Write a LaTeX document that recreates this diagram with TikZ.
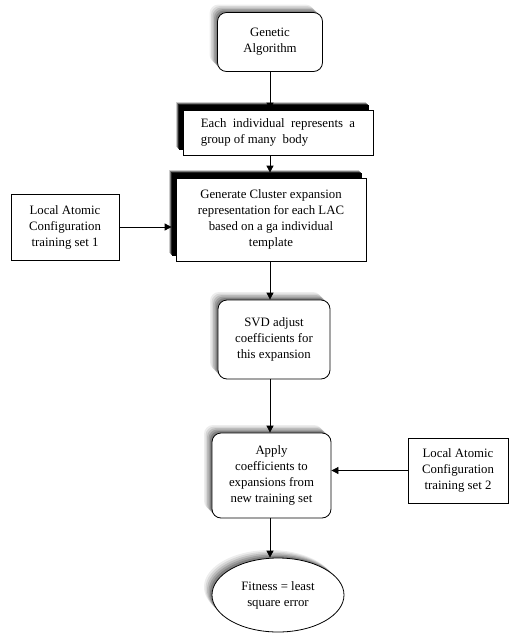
\documentclass[tikz,border=0pt]{standalone}
\usepackage{fontspec}
\setmainfont{Liberation Serif}
\usetikzlibrary{positioning, calc, shapes.geometric, arrows.meta}

\tikzset{
softshadow/.style={
  preaction={fill=black, opacity=.07, transform canvas={xshift=-8pt, yshift=8pt}},
  preaction={fill=black, opacity=.09, transform canvas={xshift=-6.5pt, yshift=6.5pt}},
  preaction={fill=black, opacity=.12, transform canvas={xshift=-5pt, yshift=5pt}},
  preaction={fill=black, opacity=.15, transform canvas={xshift=-3.5pt, yshift=3.5pt}},
  preaction={fill=black, opacity=.18, transform canvas={xshift=-2pt, yshift=2pt}}},
hardshadow/.style={
  preaction={fill=black, opacity=.2, transform canvas={xshift=-7pt, yshift=8pt}},
  preaction={fill=black, opacity=.4, transform canvas={xshift=-6pt, yshift=7pt}},
  preaction={fill=black, opacity=.7, transform canvas={xshift=-5pt, yshift=6pt}},
  preaction={fill=black, opacity=1, transform canvas={xshift=-4pt, yshift=5pt}}},
roundbox/.style={draw=black, rounded corners=9pt, fill=white, align=center, inner sep=0pt, softshadow},
darkbox/.style={draw=black, fill=white, inner sep=0pt, hardshadow},
plainbox/.style={draw=black, fill=white, align=center, inner sep=0pt},
ovalbox/.style={ellipse, draw=black, fill=white, align=center, inner sep=0pt, softshadow},
flow/.style={-{Triangle[length=7pt,width=7pt]}, line width=0.8pt}
}

\begin{document}
\begin{tikzpicture}[x=1pt, y=-1pt, line width=0.8pt,
  every node/.style={font=\fontsize{12.8}{16}\selectfont}]
\useasboundingbox[fill=white] (0,0) rectangle (515,643);

\node[roundbox, minimum width=105pt, minimum height=59pt] (ga) at (270,42) {Genetic\\Algorithm};
\node[darkbox, minimum width=190pt, minimum height=45pt, align=left] (each) at (278,132.5)
  {Each\ \ individual\ \ represents\ \ a\\group of many\ \ body};
\node[darkbox, minimum width=190pt, minimum height=83pt, align=center] (gen) at (271,219.5)
  {Generate Cluster expansion\\representation for each LAC\\based on a ga individual\\template};
\node[plainbox, minimum width=108pt, minimum height=66pt] (lac1) at (65,227)
  {Local Atomic\\Configuration\\training set 1};
\node[roundbox, minimum width=112pt, minimum height=79pt] (svd) at (274,339.5)
  {SVD adjust\\coefficients for\\this expansion};
\node[roundbox, minimum width=119pt, minimum height=85pt] (apply) at (271.5,475.5)
  {Apply\\coefficients to\\expansions from\\new training set};
\node[plainbox, minimum width=100pt, minimum height=65pt] (lac2) at (458,470.5)
  {Local Atomic\\Configuration\\training set 2};
\node[ovalbox, minimum width=132pt, minimum height=74pt] (fit) at (278,595)
  {Fitness = least\\square error};

% connectors
\draw[flow] (ga.south) -- (ga.south |- each.north);
\draw[flow] ([xshift=-8pt]each.south) -- ([xshift=-8pt,yshift=5pt]each.south |- gen.north);
\draw[flow] (lac1.east) -- ([xshift=-4pt]lac1.east -| gen.west);
\draw[flow] ([xshift=-1pt]gen.south) -- ([xshift=-1pt]gen.south |- svd.north);
\draw[flow] ([xshift=-4pt]svd.south) -- ([xshift=-4pt]svd.south |- apply.north);
\draw[flow] (lac2.west) -- (lac2.west -| apply.east);
\draw[flow] ([xshift=-1.5pt]apply.south) -- ([xshift=-1.5pt]apply.south |- fit.north);
\end{tikzpicture}
\end{document}
